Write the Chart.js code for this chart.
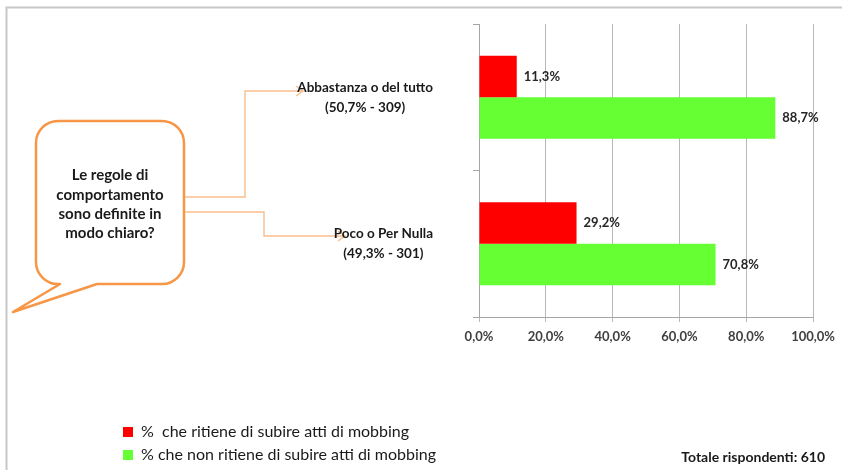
<!DOCTYPE html>
<html><head><meta charset="utf-8">
<script src="https://cdn.jsdelivr.net/npm/chart.js@4/dist/chart.umd.min.js"></script>
<style>html,body{margin:0;padding:0;background:#fff}#wrap{width:842px;height:470px}</style>
</head><body><div id="wrap"><canvas id="c" width="842" height="470"></canvas></div>
<script>
const categories = [["Abbastanza o del tutto", "(50,7% - 309)"], ["Poco o Per Nulla", "(49,3% - 301)"]];
const seriesNames = ["%  che ritiene di subire atti di mobbing", "% che non ritiene di subire atti di mobbing"];
const yesMobbing = [11.3, 29.2];
const noMobbing = [88.7, 70.8];
const xTicks = [0, 20, 40, 60, 80, 100];
const bubbleText = ["Le regole di", "comportamento", "sono definite in", "modo chiaro?"];
const totalText = "Totale rispondenti: 610";

const FONT = "Lato, 'Liberation Sans', sans-serif";
const fmt = v => v.toFixed(1).replace('.', ',') + '%';

const decor = {
  id: 'decor',
  beforeDraw(chart) {
    const ctx = chart.ctx;
    ctx.save();
    // outer frame
    ctx.strokeStyle = '#c8c8c8'; ctx.lineWidth = 2;
    ctx.beginPath(); ctx.moveTo(6.5, 470); ctx.lineTo(6.5, 7.5); ctx.lineTo(842, 7.5); ctx.stroke();
    // speech bubble
    const L = 36, R = 184, T = 121, B = 284, r = 22;
    ctx.beginPath();
    ctx.moveTo(L + r, T);
    ctx.lineTo(R - r, T); ctx.arcTo(R, T, R, T + r, r);
    ctx.lineTo(R, B - r); ctx.arcTo(R, B, R - r, B, r);
    ctx.lineTo(97, B); ctx.lineTo(13, 312); ctx.lineTo(60, B);
    ctx.lineTo(L + r, B); ctx.arcTo(L, B, L, B - r, r);
    ctx.lineTo(L, T + r); ctx.arcTo(L, T, L + r, T, r);
    ctx.closePath();
    ctx.fillStyle = '#fff'; ctx.fill();
    ctx.strokeStyle = '#F79646'; ctx.lineWidth = 2.5; ctx.lineJoin = 'round'; ctx.stroke();
    ctx.fillStyle = '#1a1a1a';
    ctx.font = "bold 15px " + FONT;
    ctx.textAlign = 'center'; ctx.textBaseline = 'middle';
    [175, 195, 214, 233].forEach((y, i) => ctx.fillText(bubbleText[i], 110, y));
    // connector arrows
    ctx.strokeStyle = '#F8BE8C'; ctx.lineWidth = 1.4; ctx.lineJoin = 'miter';
    const arrow = (pts) => {
      ctx.beginPath(); ctx.moveTo(pts[0][0], pts[0][1]);
      for (let i = 1; i < pts.length; i++) ctx.lineTo(pts[i][0], pts[i][1]);
      ctx.stroke();
      const [x, y] = pts[pts.length - 1];
      ctx.beginPath(); ctx.moveTo(x - 7, y - 5); ctx.lineTo(x, y); ctx.lineTo(x - 7, y + 5); ctx.stroke();
    };
    arrow([[185, 197], [245, 197], [245, 91], [303, 91]]);
    arrow([[185, 212], [264, 212], [264, 236], [345, 236]]);
    // total
    ctx.fillStyle = '#1a1a1a';
    ctx.font = "bold 14px " + FONT;
    ctx.textAlign = 'right';
    ctx.fillText(totalText, 825, 457);
    // y labels: block right aligned, lines centered in block
    const ys = chart.scales.y;
    const items = ys.getLabelItems(chart.chartArea);
    items.forEach(it => {
      ctx.font = it.font.string;
      const lines = Array.isArray(it.label) ? it.label : [it.label];
      const w = Math.max(...lines.map(l => ctx.measureText(l).width));
      if (it.options.textAlign === 'right') {
        it.options.translation[0] -= w / 2;
        it.options.textAlign = 'center';
      }
    });
    ctx.restore();
  },
  afterLayout(chart) {
    const lg = chart.legend;
    const w = lg.width, h = lg.height;
    lg.left = 116; lg.top = 417; lg.right = lg.left + w; lg.bottom = lg.top + Math.max(h, 200);
  },
  afterDatasetsDraw(chart) {
    const ctx = chart.ctx;
    ctx.save();
    ctx.font = "bold 13px " + FONT;
    ctx.fillStyle = '#262626';
    ctx.textAlign = 'left'; ctx.textBaseline = 'middle';
    chart.data.datasets.forEach((ds, di) => {
      chart.getDatasetMeta(di).data.forEach((bar, i) => {
        ctx.fillText(fmt(ds.data[i]), bar.x + 7, bar.y);
      });
    });
    ctx.restore();
  }
};

new Chart(document.getElementById('c'), {
  type: 'bar',
  data: {
    labels: categories,
    datasets: [
      { label: seriesNames[0], data: yesMobbing, backgroundColor: '#FF0000', borderWidth: 0 },
      { label: seriesNames[1], data: noMobbing, backgroundColor: '#66FF33', borderWidth: 0 }
    ]
  },
  options: {
    indexAxis: 'y',
    responsive: false,
    animation: false,
    devicePixelRatio: 1,
    layout: { padding: { top: 24, right: 26, bottom: 0, left: 0 } },
    datasets: { bar: { categoryPercentage: 0.567, barPercentage: 1 } },
    plugins: {
      legend: {
        position: 'chartArea',
        align: 'start',
        labels: {
          boxWidth: 10, boxHeight: 10, padding: 7,
          color: '#1a1a1a',
          font: { family: FONT, size: 16 }
        }
      },
      tooltip: { enabled: false }
    },
    scales: {
      x: {
        type: 'linear', min: 0, max: 100,
        afterBuildTicks: s => { s.ticks = xTicks.map(v => ({ value: v })); },
        afterFit: s => { s.height = 153; },
        grid: { color: '#b8b8b8', lineWidth: 1, tickLength: 5 },
        border: { color: '#a6a6a6' },
        ticks: {
          padding: 7,
          color: '#404040',
          font: { family: FONT, size: 13, weight: 'bold' },
          callback: v => fmt(v)
        }
      },
      y: {
        type: 'category',
        afterFit: s => { s.width = 479; s.paddingTop = 0; s.paddingBottom = 0; },
        grid: { drawOnChartArea: false, tickLength: 6, color: '#a6a6a6', offset: true },
        border: { color: '#a6a6a6' },
        ticks: {
          padding: 40,
          color: '#1a1a1a',
          font: { family: FONT, size: 13.5, weight: 'bold', lineHeight: 1.48 }
        }
      }
    }
  },
  plugins: [decor]
});
</script>
</body></html>
